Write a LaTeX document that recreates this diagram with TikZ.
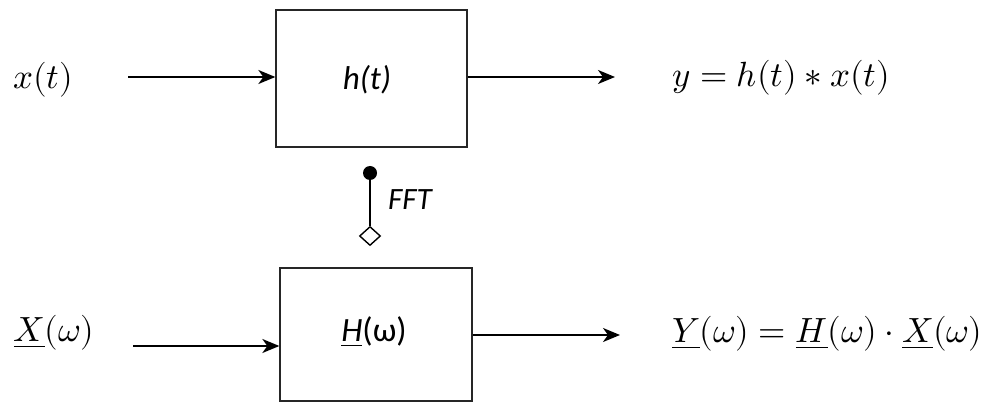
\documentclass[tikz,border=0pt]{standalone}
\usepackage{fontspec}
\usepackage{unicode-math}
\setmathfont{Latin Modern Math}
\newfontfamily\calib{Carlito}
\usetikzlibrary{arrows.meta,shapes.geometric}
\begin{document}
\begin{tikzpicture}[x=1pt,y=-1pt,
  blk/.style={draw=black!85,line width=1.3pt,minimum width=191pt,minimum height=137pt,inner sep=0pt},
  arr/.style={line width=1.9pt,-{Stealth[length=17pt,width=14pt,inset=5pt]}},
  mth/.style={font=\fontsize{35}{40}\selectfont,inner sep=0pt},
  sns/.style={font=\calib\fontsize{33}{38}\selectfont\itshape,inner sep=0pt},
  dotnode/.style={circle,fill=black,minimum size=14pt,inner sep=0pt},
  dia/.style={diamond,draw,line width=1.4pt,minimum width=21pt,minimum height=19pt,inner sep=0pt,fill=white}]
\useasboundingbox (0,0) rectangle (982,403);
% boxes
\node[blk] (hb) at (371.5,78.5) {};
\node[blk,minimum width=192pt,minimum height=133pt] (Hb) at (376,334.5) {};
\node[sns] (ht) at (367,80) {h(t)};
\node[sns,font=\calib\fontsize{34}{38}\selectfont] (Hw) at (374,332) {\underline{\textit{H}}(ω)};
% input / output texts
\node[mth] (xt) at (43,80) {$x(t)$};
\node[mth] (Xw) at (54,333) {$\underline{X}(\omega)$};
\node[mth,anchor=west] (yt) at (672,78) {$y = h(t) * x(t)$};
\node[mth,anchor=west] (Yw) at (672,334) {$\underline{Y}(\omega) = \underline{H}(\omega)\cdot\underline{X}(\omega)$};
% arrows
\coordinate (a1) at (128,77);
\coordinate (a2) at (615,77);
\coordinate (a3) at (133,346);
\coordinate (a4) at (620,335);
\draw[arr] (a1) -- (a1 -| hb.west);
\draw[arr] (a2 -| hb.east) -- (a2);
\draw[arr] (a3) -- (a3 -| Hb.west);
\draw[arr] (a4 -| Hb.east) -- (a4);
% FFT link
\node[dotnode] (fd) at (370,173) {};
\node[dia] (fdia) at (370,236) {};
\draw[line width=1.6pt] (fd) -- (fdia);
\node[sns,font=\calib\fontsize{31}{36}\selectfont\itshape] (fft) at (410,200) {FFT};
\end{tikzpicture}
\end{document}
